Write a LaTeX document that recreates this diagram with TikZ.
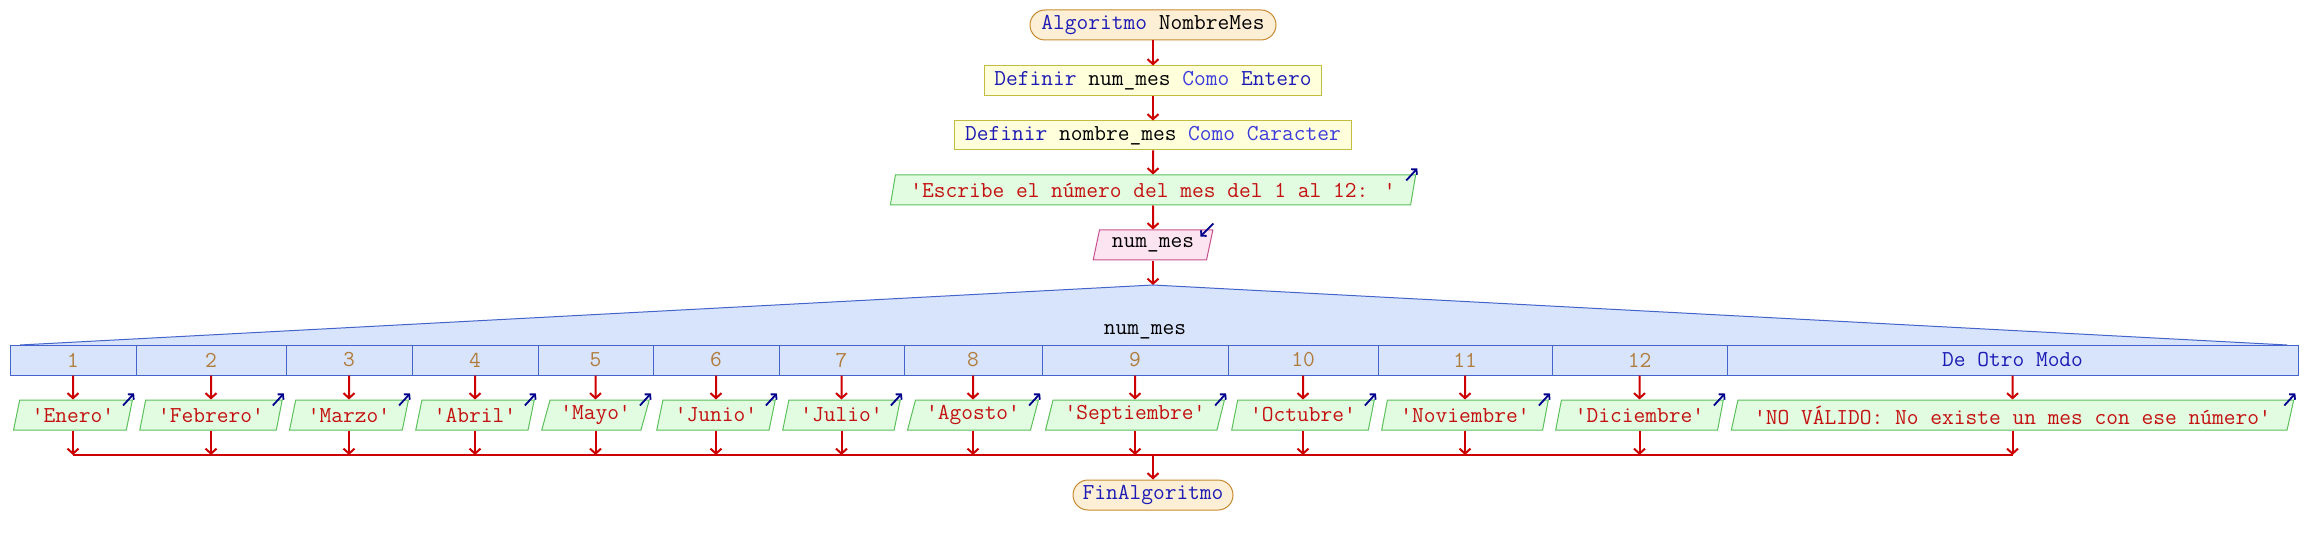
\documentclass[tikz,border=0pt]{standalone}
\usepackage{fontspec}
\usetikzlibrary{shapes.geometric,arrows.meta}

\definecolor{rojoflecha}{HTML}{CC0000}
\definecolor{azulclave}{HTML}{1C1CB4}
\definecolor{azulcomo}{HTML}{3C3CDC}
\definecolor{rojotexto}{HTML}{C41010}
\definecolor{marroncaso}{HTML}{B07C3C}
\definecolor{azulicono}{HTML}{00008C}
\definecolor{fondoterm}{HTML}{FDEFD6}
\definecolor{bordeterm}{HTML}{C88A30}
\definecolor{fondodef}{HTML}{FFFFDC}
\definecolor{bordedef}{HTML}{C4BC40}
\definecolor{fondosal}{HTML}{E2FCE2}
\definecolor{bordesal}{HTML}{5CC05C}
\definecolor{fondoleer}{HTML}{FCE4F0}
\definecolor{bordeleer}{HTML}{C8508C}
\definecolor{fondosel}{HTML}{D8E4FC}
\definecolor{bordesel}{HTML}{4464CC}

\newcommand{\clave}[1]{\textcolor{azulclave}{#1}}
\newcommand{\como}[1]{\textcolor{azulcomo}{#1}}

\begin{document}
\begin{tikzpicture}[x=0.5pt,y=-0.5pt,font=\ttfamily\fontsize{11.4}{13}\selectfont,
  flujo/.style={draw=rojoflecha,line width=1pt,-{Straight Barb[length=2.5pt,width=5.5pt]}},
  icono/.style={draw=azulicono,line width=0.9pt,-{Straight Barb[length=1.8pt,width=4pt]}},
  terminal/.style={rectangle,rounded corners=7.5pt,draw=bordeterm,fill=fondoterm,line width=0.5pt,minimum height=15pt,inner sep=0pt},
  definir/.style={rectangle,draw=bordedef,fill=fondodef,line width=0.5pt,minimum height=15pt,inner sep=0pt},
  paralelo/.style={trapezium,trapezium left angle=71.57,trapezium right angle=108.43,trapezium stretches=true,minimum height=15pt,inner sep=0pt,line width=0.5pt},
  salida/.style={paralelo,draw=bordesal,fill=fondosal,text=rojotexto},
  leer/.style={paralelo,draw=bordeleer,fill=fondoleer},
  caso/.style={rectangle,draw=bordesel,fill=fondosel,line width=0.5pt,minimum height=15pt,inner sep=0pt,text=marroncaso}]

\useasboundingbox (0,0) rectangle (2306,545);

\node[terminal,minimum width=123pt] (inicio) at (1153,25) {\clave{Algoritmo} NombreMes};
\node[definir,minimum width=168.5pt] (def1) at (1153,81) {\clave{Definir} num\_mes \como{Como} \clave{Entero}};
\node[definir,minimum width=198.5pt,minimum height=14.5pt] (def2) at (1153,135.5) {\clave{Definir} nombre\_mes \como{Como} \como{Caracter}};
\node[salida,minimum width=263.5pt] (escribe) at (1153,190) {'Escribe el número del mes del 1 al 12: '};
\node[leer,minimum width=60pt] (leer) at (1153,245) {num\_mes};
\coordinate (sel) at (1153,285);

\draw[flujo] (inicio) -- (def1);
\draw[flujo] (def1) -- (def2);
\draw[flujo] (def2) -- (escribe);
\draw[flujo] (escribe) -- (leer);
\draw[flujo] (leer) -- (sel);
\draw[icono] ([xshift=-5pt,yshift=-3pt]escribe.top right corner) -- ([xshift=0.5pt,yshift=3pt]escribe.top right corner);
\draw[icono] ([yshift=3pt]leer.top right corner) -- ([xshift=-6.5pt,yshift=-3.5pt]leer.top right corner);

% selector
\fill[fondosel] (20,345) -- (sel) -- (2287,345) -- cycle;
\draw[bordesel,line width=0.5pt] (20,345) -- (sel) -- (2287,345);
\node (selvar) at (1145,332) {num\_mes};

\foreach \n/\izq/\der/\etq/\txt in {1/10/136/1/'Enero', 2/136/286/2/'Febrero', 3/286/412/3/'Marzo',
    4/412/538/4/'Abril', 5/538/653/5/'Mayo', 6/653/779/6/'Junio', 7/779/904/7/'Julio',
    8/904/1042/8/'Agosto', 9/1042/1228/9/'Septiembre', 10/1228/1378/10/'Octubre',
    11/1378/1552/11/'Noviembre', 12/1552/1727/12/'Diciembre',
    13/1727/2298/\clave{De Otro Modo}/'NO VÁLIDO: No existe un mes con ese número'}
{
  \node[caso,minimum width={(\der-\izq)*0.5pt}] (caso\n) at ({(\izq+\der)/2},360) {\etq};
  \node[salida,minimum width={(\der-\izq-7)*0.5pt}] (sal\n) at ({(\izq+\der)/2},415) {\txt};
  \coordinate (une\n) at ({(\izq+\der)/2},455);
  \draw[flujo] (caso\n) -- (sal\n);
  \draw[flujo] (sal\n) -- (une\n);
  \draw[icono] ([xshift=-5pt,yshift=-3pt]sal\n.top right corner) -- ([xshift=0.5pt,yshift=3pt]sal\n.top right corner);
}

\draw[rojoflecha,line width=1pt] (une1) -- (une13);
\coordinate (junta) at (1153,455);
\node[terminal,minimum width=80pt] (fin) at (1153,495) {\clave{FinAlgoritmo}};
\draw[flujo] (junta) -- (fin);

\end{tikzpicture}
\end{document}
